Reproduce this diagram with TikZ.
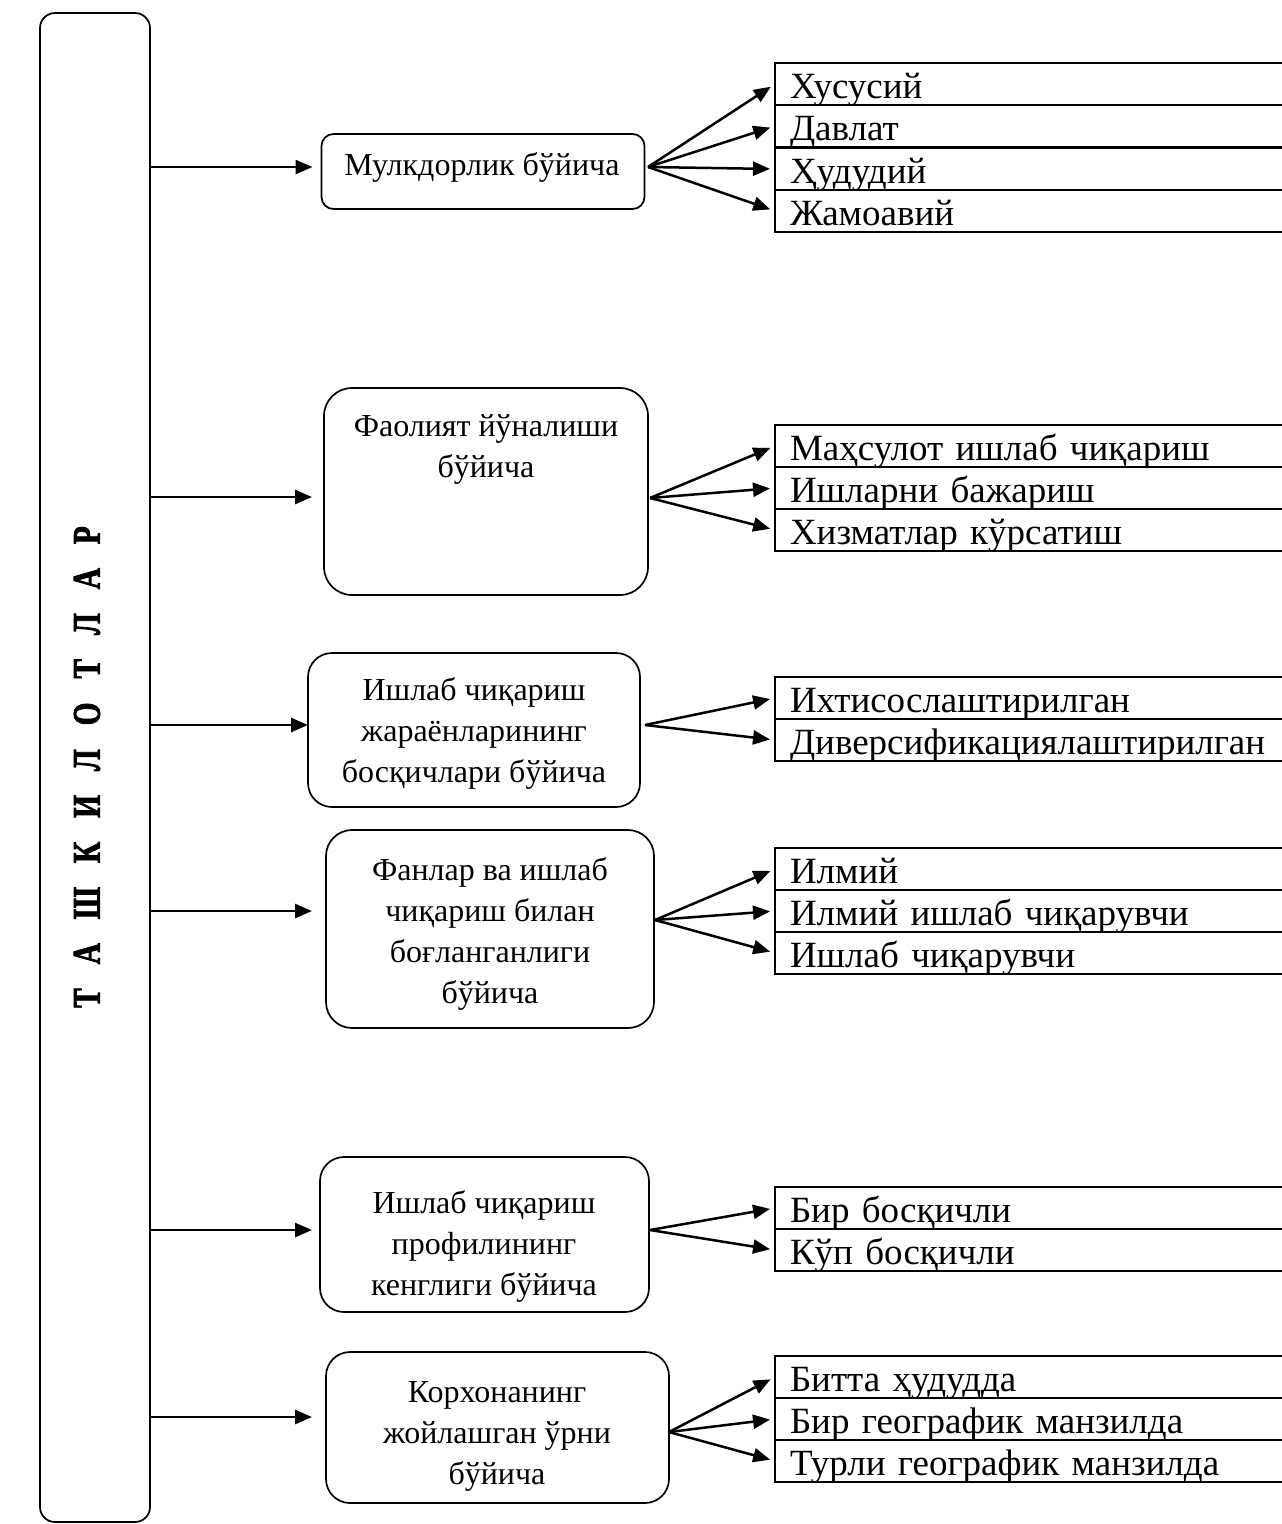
\documentclass[tikz,border=0pt]{standalone}
\usepackage{fontspec}
\setmainfont{Liberation Serif}
\newfontfamily\titlefont[FakeBold=2.5]{Liberation Serif Bold}
\newcommand\mytitlespacing{\spaceskip=32pt\relax}
\usetikzlibrary{arrows.meta}
\begin{document}
\begin{tikzpicture}[x=1pt,y=-1pt,
  every node/.style={inner sep=0pt, outer sep=0pt},
  mainbox/.style={draw, line width=1.7pt, rounded corners=15pt},
  midbox/.style={draw, line width=1.7pt, rounded corners=20pt},
  midtext/.style={align=center, font=\fontsize{32}{41}\selectfont},
  row/.style={draw, line width=2pt, anchor=north west, text width=500pt, align=left,
    inner xsep=15pt, inner ysep=0pt, text height=35pt, text depth=7pt,
    font=\fontsize{37}{40}\selectfont},
  arr/.style={line width=2.5pt, -{Triangle[length=17pt,width=14pt]}},
  fan/.style={arr, shorten >=5pt}
]
\useasboundingbox (0,0) rectangle (1282,1524);

% left main box
\node[mainbox, minimum width=110pt, minimum height=1509pt] (L) at (95,767.5) {};
\node[rotate=90, xscale=0.75, font=\titlefont\fontsize{39}{42}\selectfont\mytitlespacing] (title) at (87,767) {Т А Ш К И Л О Т Л А Р};

% middle boxes
\node[midbox, rounded corners=12pt, minimum width=323pt, minimum height=75pt] (m1) at (483,171.5) {};
\node[midbox, rounded corners=28pt, minimum width=324pt, minimum height=207pt] (m2) at (486,491.5) {};
\node[midbox, rounded corners=24pt, minimum width=332pt, minimum height=154pt] (m3) at (474,730) {};
\node[midbox, rounded corners=26pt, minimum width=328pt, minimum height=198pt] (m4) at (490,929) {};
\node[midbox, rounded corners=24pt, minimum width=329pt, minimum height=155pt] (m5) at (484.5,1234.5) {};
\node[midbox, rounded corners=24pt, minimum width=343pt, minimum height=151pt] (m6) at (497.5,1427.5) {};

\node[midtext] (t1) at (482,167) {Мулкдорлик бўйича};
\node[midtext] (t2) at (486,449) {Фаолият йўналиши\\бўйича};
\node[midtext] (t3) at (474,733) {Ишлаб чиқариш\\жараёнларининг\\босқичлари бўйича};
\node[midtext] (t4) at (490,934) {Фанлар ва ишлаб\\чиқариш билан\\боғланганлиги\\бўйича};
\node[midtext] (t5) at (484,1246) {Ишлаб чиқариш\\профилининг\\кенглиги бўйича};
\node[midtext] (t6) at (497,1436) {Корхонанинг\\жойлашган ўрни\\бўйича};

% horizontal arrows
\coordinate (a1) at (0,167);
\coordinate (a2) at (0,497);
\coordinate (a3) at (0,725);
\coordinate (a4) at (0,911);
\coordinate (a5) at (0,1230);
\coordinate (a6) at (0,1417);
\draw[arr, shorten >=9pt]  (L.east |- a1) -- (m1.west |- a1);
\draw[arr, shorten >=12pt] (L.east |- a2) -- (m2.west |- a2);
\draw[arr, shorten >=0pt]  (L.east |- a3) -- (m3.west |- a3);
\draw[arr, shorten >=14pt] (L.east |- a4) -- (m4.west |- a4);
\draw[arr, shorten >=8pt]  (L.east |- a5) -- (m5.west |- a5);
\draw[arr, shorten >=14pt] (L.east |- a6) -- (m6.west |- a6);

% list 1
\node[row] (r11) at (775,63)  {Хусусий};
\node[row] (r12) at (775,105) {Давлат};
\node[row] (r13) at (775,148) {Ҳудудий};
\node[row] (r14) at (775,190) {Жамоавий};
% list 2
\node[row] (r21) at (775,425) {Маҳсулот ишлаб чиқариш};
\node[row] (r22) at (775,467) {Ишларни бажариш};
\node[row] (r23) at (775,509) {Хизматлар кўрсатиш};
% list 3
\node[row] (r31) at (775,677) {Ихтисослаштирилган};
\node[row] (r32) at (775,719) {Диверсификациялаштирилган};
% list 4
\node[row] (r41) at (775,848) {Илмий};
\node[row] (r42) at (775,890) {Илмий ишлаб чиқарувчи};
\node[row] (r43) at (775,932) {Ишлаб чиқарувчи};
% list 5
\node[row] (r51) at (775,1187) {Бир босқичли};
\node[row] (r52) at (775,1229) {Кўп босқичли};
% list 6
\node[row] (r61) at (775,1356) {Битта ҳудудда};
\node[row] (r62) at (775,1398) {Бир географик манзилда};
\node[row] (r63) at (775,1440) {Турли географик манзилда};

% fan origins
\coordinate (f1) at (648,167);
\coordinate (f2) at (650,498);
\coordinate (f3) at (645,725);
\coordinate (f4) at (655,920);
\coordinate (f5) at (650,1230);
\coordinate (f6) at (669,1432);

\foreach \r in {r11,r12,r13,r14} \draw[fan] (f1) -- (\r.west);
\foreach \r in {r21,r22,r23} \draw[fan] (f2) -- (\r.west);
\foreach \r in {r31,r32} \draw[fan] (f3) -- (\r.west);
\foreach \r in {r41,r42,r43} \draw[fan] (f4) -- (\r.west);
\foreach \r in {r51,r52} \draw[fan] (f5) -- (\r.west);
\foreach \r in {r61,r62,r63} \draw[fan] (f6) -- (\r.west);
\end{tikzpicture}
\end{document}
